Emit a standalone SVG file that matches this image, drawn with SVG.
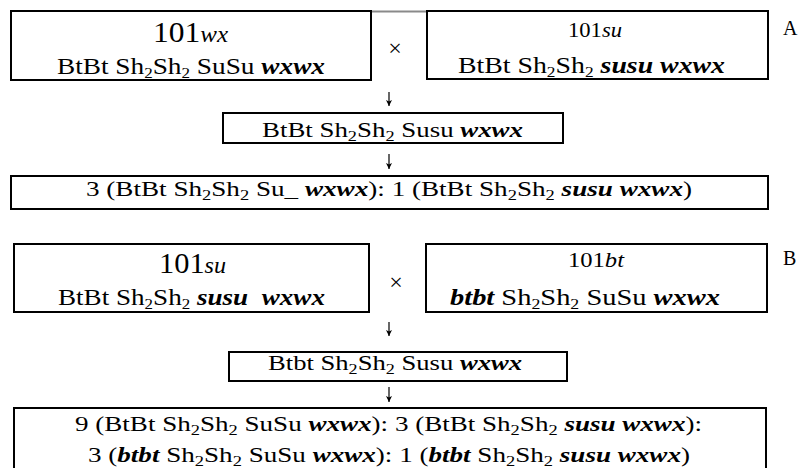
<svg xmlns="http://www.w3.org/2000/svg" width="804" height="468" viewBox="0 0 804 468">
<style>
text{font-family:"Liberation Serif",Tinos,"Times New Roman",Times,"Nimbus Roman","Nimbus Roman No9 L",FreeSerif,"Noto Serif","DejaVu Serif",serif;fill:#000}
.box{fill:#fff;stroke:#000;stroke-width:2}
.i{font-style:italic}
.bi{font-style:italic;font-weight:bold}
.big{font-size:29px}
.l1{font-size:21px}
.l2{font-size:24px}
.r{font-size:22px}
.lab{font-size:20px}
.x{font-size:24px}
.sub{font-size:15px}
.arr{stroke:#000;stroke-width:1.2;fill:none}
</style>
<defs>
<marker id="ah" viewBox="0 0 6 6" refX="6" refY="3" markerWidth="6" markerHeight="6" markerUnits="userSpaceOnUse" orient="auto">
<path d="M0,0 L6,3 L0,6 L1.5,3 Z" fill="#000"/>
</marker>
</defs>
<line x1="371" y1="11.5" x2="427" y2="11.5" stroke="#8a8a8a" stroke-width="2"/>
<g id="a-parent1">
<rect class="box" x="11" y="11" width="360" height="69"/>
<text x="153" y="41.5" textLength="75" lengthAdjust="spacingAndGlyphs"><tspan class="big">101</tspan><tspan class="i" font-size="23">wx</tspan></text>
<text class="l2" x="57" y="74" textLength="268" lengthAdjust="spacingAndGlyphs">BtBt Sh<tspan class="sub" dy="4">2</tspan><tspan dy="-4">Sh</tspan><tspan class="sub" dy="4">2</tspan><tspan dy="-4"> SuSu </tspan><tspan class="bi">wxwx</tspan></text>
</g>
<g id="a-cross"><text class="x" x="395" y="56" text-anchor="middle">×</text></g>
<g id="a-parent2">
<rect class="box" x="427" y="11" width="341" height="68"/>
<text class="l1" x="568" y="37" textLength="54" lengthAdjust="spacingAndGlyphs">101<tspan class="i">su</tspan></text>
<text class="l2" x="458" y="73" textLength="267" lengthAdjust="spacingAndGlyphs">BtBt Sh<tspan class="sub" dy="4">2</tspan><tspan dy="-4">Sh</tspan><tspan class="sub" dy="4">2</tspan><tspan dy="-4"> </tspan><tspan class="bi">susu wxwx</tspan></text>
</g>
<g id="label-a"><text class="lab" x="783" y="35">A</text></g>
<g id="a-f1">
<rect class="box" x="223" y="113" width="340" height="30"/>
<text class="r" x="262" y="137" textLength="261" lengthAdjust="spacingAndGlyphs">BtBt Sh<tspan class="sub" dy="4">2</tspan><tspan dy="-4">Sh</tspan><tspan class="sub" dy="4">2</tspan><tspan dy="-4"> Susu </tspan><tspan class="bi">wxwx</tspan></text>
</g>
<g id="a-f2">
<rect class="box" x="11" y="176" width="757" height="33"/>
<text class="r" x="86" y="196" textLength="606" lengthAdjust="spacingAndGlyphs">3 (BtBt Sh<tspan class="sub" dy="4">2</tspan><tspan dy="-4">Sh</tspan><tspan class="sub" dy="4">2</tspan><tspan dy="-4"> Su_ </tspan><tspan class="bi">wxwx</tspan>): 1 (BtBt Sh<tspan class="sub" dy="4">2</tspan><tspan dy="-4">Sh</tspan><tspan class="sub" dy="4">2</tspan><tspan dy="-4"> </tspan><tspan class="bi">susu wxwx</tspan>)</text>
</g>
<g id="b-parent1">
<rect class="box" x="14" y="244" width="355" height="68"/>
<text x="159" y="273" textLength="67" lengthAdjust="spacingAndGlyphs"><tspan class="big">101</tspan><tspan class="i" font-size="23">su</tspan></text>
<text class="l2" x="58" y="305" textLength="267" lengthAdjust="spacingAndGlyphs">BtBt Sh<tspan class="sub" dy="4">2</tspan><tspan dy="-4">Sh</tspan><tspan class="sub" dy="4">2</tspan><tspan dy="-4"> </tspan><tspan class="bi">susu&#160; wxwx</tspan></text>
</g>
<g id="b-cross"><text class="x" x="396" y="290" text-anchor="middle">×</text></g>
<g id="b-parent2">
<rect class="box" x="426" y="244" width="341" height="68"/>
<text class="l1" x="568" y="267" textLength="56" lengthAdjust="spacingAndGlyphs">101<tspan class="i">bt</tspan></text>
<text class="l2" x="450" y="305" textLength="270" lengthAdjust="spacingAndGlyphs"><tspan class="bi">btbt</tspan> Sh<tspan class="sub" dy="4">2</tspan><tspan dy="-4">Sh</tspan><tspan class="sub" dy="4">2</tspan><tspan dy="-4"> SuSu </tspan><tspan class="bi">wxwx</tspan></text>
</g>
<g id="label-b"><text class="lab" x="783" y="265">B</text></g>
<g id="b-f1">
<rect class="box" x="229" y="352" width="338" height="29"/>
<text class="r" x="268" y="370" textLength="254" lengthAdjust="spacingAndGlyphs">Btbt Sh<tspan class="sub" dy="4">2</tspan><tspan dy="-4">Sh</tspan><tspan class="sub" dy="4">2</tspan><tspan dy="-4"> Susu </tspan><tspan class="bi">wxwx</tspan></text>
</g>
<g id="b-f2">
<rect class="box" x="14" y="408" width="752" height="66"/>
<text class="r" x="75" y="431" textLength="627" lengthAdjust="spacingAndGlyphs">9 (BtBt Sh<tspan class="sub" dy="4">2</tspan><tspan dy="-4">Sh</tspan><tspan class="sub" dy="4">2</tspan><tspan dy="-4"> SuSu </tspan><tspan class="bi">wxwx</tspan>): 3 (BtBt Sh<tspan class="sub" dy="4">2</tspan><tspan dy="-4">Sh</tspan><tspan class="sub" dy="4">2</tspan><tspan dy="-4"> </tspan><tspan class="bi">susu wxwx</tspan>):</text>
<text class="r" x="88" y="462" textLength="602" lengthAdjust="spacingAndGlyphs">3 (<tspan class="bi">btbt</tspan> Sh<tspan class="sub" dy="4">2</tspan><tspan dy="-4">Sh</tspan><tspan class="sub" dy="4">2</tspan><tspan dy="-4"> SuSu </tspan><tspan class="bi">wxwx</tspan>): 1 (<tspan class="bi">btbt</tspan> Sh<tspan class="sub" dy="4">2</tspan><tspan dy="-4">Sh</tspan><tspan class="sub" dy="4">2</tspan><tspan dy="-4"> </tspan><tspan class="bi">susu wxwx</tspan>)</text>
</g>
<g id="connectors">
<line class="arr" x1="389" y1="92" x2="389" y2="106" marker-end="url(#ah)"/>
<line class="arr" x1="389" y1="154" x2="389" y2="169" marker-end="url(#ah)"/>
<line class="arr" x1="389" y1="322" x2="389" y2="336" marker-end="url(#ah)"/>
<line class="arr" x1="389" y1="387" x2="389" y2="402" marker-end="url(#ah)"/>
</g>
</svg>
